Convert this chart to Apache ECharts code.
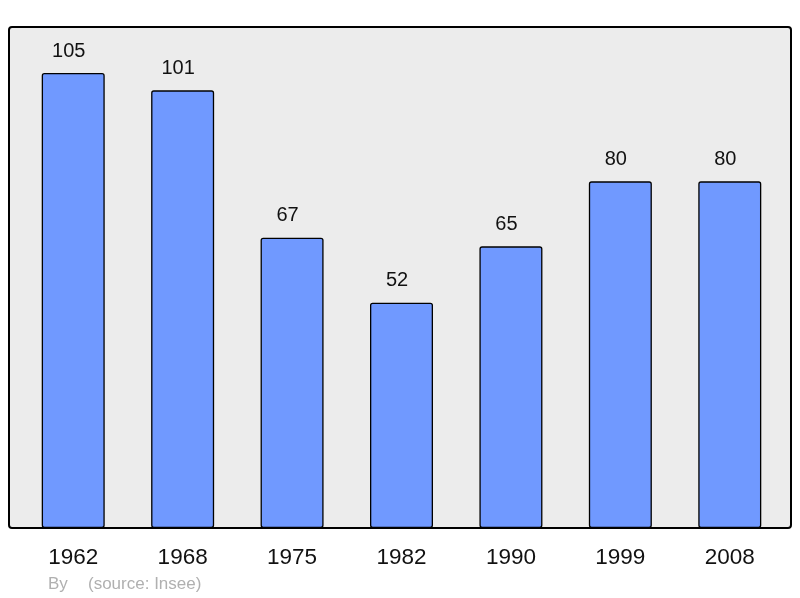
<!DOCTYPE html>
<html><head><meta charset="utf-8">
<script src="https://cdn.jsdelivr.net/npm/echarts@6/dist/echarts.min.js"></script>
<style>html,body{margin:0;padding:0;background:#fff}#c{width:800px;height:598px}</style>
</head><body><div id="c"></div>
<script>
const categories = ['1962','1968','1975','1982','1990','1999','2008'];
const values = [105,101,67,52,65,80,80];

const chart = echarts.init(document.getElementById('c'), null, {renderer:'canvas'});
chart.setOption({
  animation:false,
  backgroundColor:'#ffffff',
  graphic:[
    {type:'rect', z:-10, shape:{x:9,y:27,width:782,height:501,r:3},
     style:{fill:'#ececec',stroke:'#000',lineWidth:2}},
    {type:'text', left:48, top:576, style:{text:'By',fill:'#b0b0b0',font:'17px "Liberation Sans", Arial, sans-serif'}},
    {type:'text', left:88, top:576, style:{text:'(source: Insee)',fill:'#b0b0b0',font:'17px "Liberation Sans", Arial, sans-serif'}}
  ],
  grid:{left:18.5, width:766, top:8, height:520, containLabel:false},
  xAxis:{type:'category', data:categories,
    axisLine:{show:false}, axisTick:{show:false},
    axisLabel:{color:'#111', fontSize:22.5, fontFamily:'"Liberation Sans", Arial, sans-serif', margin:18}},
  yAxis:{type:'value', min:0, max:120, show:false, splitLine:{show:false}},
  series:[{type:'bar', data:values, barWidth:63,
    itemStyle:{color:'#7099ff', borderColor:'#000', borderWidth:1.3, borderRadius:2},
    label:{show:true, position:'top', distance:12, offset:[-4.5,0], color:'#111', fontSize:20,
      fontFamily:'"Liberation Sans", Arial, sans-serif'}}]
});
</script></body></html>
